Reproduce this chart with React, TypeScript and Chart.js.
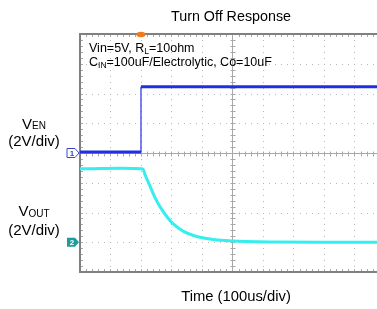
import React, { useEffect, useRef } from 'react';
import { Chart, registerables } from 'chart.js';

Chart.register(...registerables);

// ---- text ----
const TITLE = 'Turn Off Response';
const X_TITLE = 'Time (100us/div)';
const CH1_LABEL = ['V', 'EN'];
const CH2_LABEL = ['V', 'OUT'];
const SCALE_LABEL = '(2V/div)';

// ---- scope settings ----
const US_PER_DIV = 100;
const V_PER_DIV = 2;
const X_MAX_US = 974;
const Y_DIVS = 8;
const CH1_GROUND_DIV = 4;
const CH2_GROUND_DIV = 1;
const TRIGGER_US = 200;

// ---- data ----
const venTimeUs = [0, 200, 200, 974];
const venVolts = [0.06, 0.06, 4.45, 4.45];

const voutTimeUs = [0, 204, 213, 230, 246, 262, 282, 305, 338, 377, 426, 475, 541, 623, 974];
const voutVolts = [4.94, 4.94, 4.55, 3.75, 3.0, 2.4, 1.8, 1.25, 0.75, 0.42, 0.22, 0.11, 0.05, 0.02, 0.0];

const FONT = '"Liberation Sans", Arial, sans-serif';

function drawParts(ctx: CanvasRenderingContext2D, parts: [string, boolean][], x: number, y: number, size: number, subSize: number, subDrop: number, align: 'left' | 'center', color: string) {
  ctx.save();
  ctx.fillStyle = color;
  ctx.textAlign = 'left';
  ctx.textBaseline = 'alphabetic';
  let total = 0;
  const widths = parts.map(([t, sub]) => {
    ctx.font = `${sub ? subSize : size}px ${FONT}`;
    const w = ctx.measureText(t).width;
    total += w;
    return w;
  });
  let cx = align === 'center' ? x - total / 2 : x;
  parts.forEach(([t, sub], i) => {
    ctx.font = `${sub ? subSize : size}px ${FONT}`;
    ctx.fillText(t, cx, sub ? y + subDrop : y);
    cx += widths[i];
  });
  ctx.restore();
}

const scopePlugin = {
  id: 'scope',
  beforeDatasetsDraw(chart: any) {
    const { ctx, chartArea, scales } = chart;
    const { left, top, right, bottom } = chartArea;
    const xs = scales.x;
    const ys = scales.y;
    const dx = xs.getPixelForValue(US_PER_DIV) - xs.getPixelForValue(0);
    const dy = ys.getPixelForValue(0) - ys.getPixelForValue(1);
    ctx.save();
    // dotted grid
    ctx.fillStyle = '#b8b8b8';
    for (let i = 1; i < 10; i++) {
      const px = Math.round(left + i * dx);
      if (px > right) break;
      for (let k = 1; k < Y_DIVS * 5; k++) {
        const py = Math.round(top + (k * dy) / 5);
        ctx.fillRect(px, py, 1, 1);
      }
    }
    for (let j = 1; j < Y_DIVS; j++) {
      const py = Math.round(top + j * dy);
      for (let k = 1; k < 50; k++) {
        const px = Math.round(left + (k * dx) / 5);
        if (px > right) break;
        ctx.fillRect(px, py, 1, 1);
      }
    }
    // center cross
    const cx = Math.round(xs.getPixelForValue(5 * US_PER_DIV)) + 0.5;
    const cy = Math.round(ys.getPixelForValue(Y_DIVS / 2)) + 0.5;
    ctx.strokeStyle = '#a8a8a8';
    ctx.lineWidth = 1;
    ctx.beginPath();
    ctx.moveTo(left, cy);
    ctx.lineTo(right, cy);
    ctx.moveTo(cx, top);
    ctx.lineTo(cx, bottom);
    for (let k = 1; k < 50; k++) {
      const px = Math.round(left + (k * dx) / 5) + 0.5;
      if (px > right) break;
      ctx.moveTo(px, cy - 2);
      ctx.lineTo(px, cy + 3);
      ctx.moveTo(px, top);
      ctx.lineTo(px, top + 3);
      ctx.moveTo(px, bottom - 3);
      ctx.lineTo(px, bottom);
    }
    for (let k = 1; k < Y_DIVS * 5; k++) {
      const py = Math.round(top + (k * dy) / 5) + 0.5;
      ctx.moveTo(cx - 2, py);
      ctx.lineTo(cx + 3, py);
      ctx.moveTo(left, py);
      ctx.lineTo(left + 3, py);
    }
    ctx.stroke();
    // border
    ctx.strokeStyle = '#808080';
    ctx.lineWidth = 2;
    ctx.beginPath();
    ctx.moveTo(right + 2, top);
    ctx.lineTo(left, top);
    ctx.lineTo(left, bottom);
    ctx.lineTo(right + 2, bottom);
    ctx.stroke();
    ctx.restore();
  },
  afterDatasetsDraw(chart: any) {
    const { ctx, chartArea, scales } = chart;
    const { left, top } = chartArea;
    const xs = scales.x;
    const ys = scales.y;
    ctx.save();
    // trigger marker
    const tx = xs.getPixelForValue(TRIGGER_US);
    ctx.fillStyle = '#f07a1e';
    ctx.beginPath();
    ctx.ellipse(tx, top + 0.5, 4.5, 2.8, 0, 0, Math.PI * 2);
    ctx.fill();
    // channel 1 marker
    const y1 = ys.getPixelForValue(CH1_GROUND_DIV);
    const mx = left - 13;
    ctx.beginPath();
    ctx.moveTo(mx, y1 - 4.5);
    ctx.lineTo(mx + 8, y1 - 4.5);
    ctx.lineTo(mx + 12, y1);
    ctx.lineTo(mx + 8, y1 + 4.5);
    ctx.lineTo(mx, y1 + 4.5);
    ctx.closePath();
    ctx.fillStyle = '#ffffff';
    ctx.fill();
    ctx.strokeStyle = '#3a48c8';
    ctx.lineWidth = 1;
    ctx.stroke();
    ctx.fillStyle = '#3a48c8';
    ctx.font = `bold 8px ${FONT}`;
    ctx.textAlign = 'center';
    ctx.textBaseline = 'middle';
    ctx.fillText('1', mx + 5, y1 + 0.5);
    // channel 2 marker
    const y2 = ys.getPixelForValue(CH2_GROUND_DIV);
    ctx.beginPath();
    ctx.moveTo(mx, y2 - 4.5);
    ctx.lineTo(mx + 8, y2 - 4.5);
    ctx.lineTo(mx + 12, y2);
    ctx.lineTo(mx + 8, y2 + 4.5);
    ctx.lineTo(mx, y2 + 4.5);
    ctx.closePath();
    ctx.fillStyle = '#1e9c9c';
    ctx.fill();
    ctx.fillStyle = '#ffffff';
    ctx.fillText('2', mx + 5, y2 + 0.5);
    ctx.restore();
  },
  afterDraw(chart: any) {
    const { ctx } = chart;
    drawParts(ctx, [[TITLE, false]], 231, 21, 14.3, 14.3, 0, 'center', '#000');
    drawParts(ctx, [[X_TITLE, false]], 236, 301, 14.8, 14.8, 0, 'center', '#000');
    drawParts(ctx, [['Vin=5V, R', false], ['L', true], ['=10ohm', false]], 89, 51.5, 12.5, 8.5, 2, 'left', '#000');
    drawParts(ctx, [['C', false], ['IN', true], ['=100uF/Electrolytic, Co=10uF', false]], 89, 66, 12.5, 8.5, 2, 'left', '#000');
    drawParts(ctx, [[CH1_LABEL[0], false], [CH1_LABEL[1], true]], 34, 128.5, 15, 10, 0.5, 'center', '#000');
    drawParts(ctx, [[SCALE_LABEL, false]], 34, 146, 15, 15, 0, 'center', '#000');
    drawParts(ctx, [[CH2_LABEL[0], false], [CH2_LABEL[1], true]], 34, 216, 15, 10, 0.5, 'center', '#000');
    drawParts(ctx, [[SCALE_LABEL, false]], 34, 234.5, 15, 15, 0, 'center', '#000');
  },
};

export default function App() {
  const ref = useRef<HTMLCanvasElement | null>(null);
  useEffect(() => {
    if (!ref.current) return;
    const edgeWidth = (c: any) => (c.p0.parsed.x === c.p1.parsed.x ? 1.2 : 3);
    const chart = new Chart(ref.current, {
      type: 'scatter',
      data: {
        datasets: [
          {
            label: 'VEN',
            data: venTimeUs.map((t, i) => ({ x: t, y: CH1_GROUND_DIV + venVolts[i] / V_PER_DIV })),
            showLine: true,
            borderColor: '#1f2fe6',
            borderWidth: 3,
            pointRadius: 0,
            tension: 0,
            segment: { borderWidth: edgeWidth },
          },
          {
            label: 'VOUT',
            data: voutTimeUs.map((t, i) => ({ x: t, y: CH2_GROUND_DIV + voutVolts[i] / V_PER_DIV })),
            showLine: true,
            borderColor: '#36eeee',
            borderWidth: 3,
            pointRadius: 0,
            tension: 0.3,
          },
        ],
      },
      options: {
        responsive: false,
        animation: false,
        devicePixelRatio: 1,
        layout: { padding: { left: 80, top: 34, right: 0, bottom: 37 } },
        scales: {
          x: { type: 'linear', min: 0, max: X_MAX_US, display: false },
          y: { type: 'linear', min: 0, max: Y_DIVS, display: false },
        },
        plugins: {
          legend: { display: false },
          title: { display: false },
          tooltip: { enabled: false },
        },
      },
      plugins: [scopePlugin],
    });
    return () => chart.destroy();
  }, []);
  return (
    <div style={{ position: 'absolute', left: 0, top: 0, width: 377, height: 309, background: '#fff' }}>
      <canvas ref={ref} width={377} height={309} style={{ display: 'block' }} />
    </div>
  );
}
